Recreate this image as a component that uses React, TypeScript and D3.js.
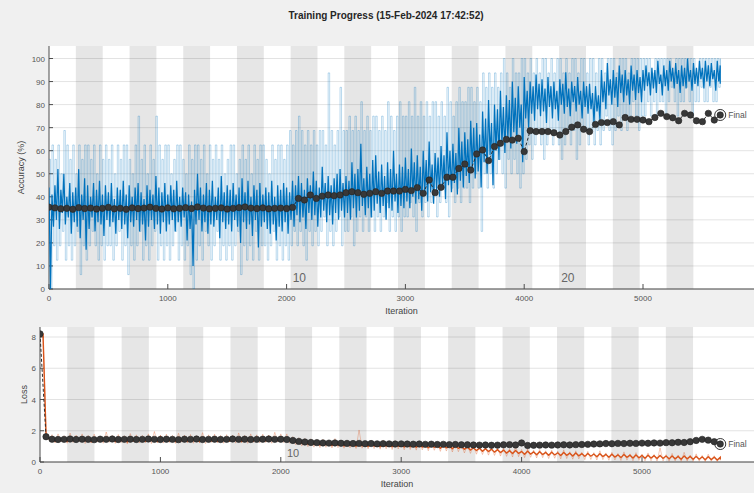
import React from 'react';
import * as d3 from 'd3';

const W = 754;
const H = 493;

const ITERS_PER_EPOCH = 226;
const NUM_EPOCHS = 25;
const ACC_BIN = 25; // accuracy traces: one high/low pair per 25 iterations
const LOSS_BIN = 50; // loss traces: one high/low pair per 50 iterations
const VAL_STEP = 50; // validation frequency

// Smoothed training accuracy (%): upper and lower extent in each 25-iteration bin
const accSmoothHigh = [
  44, 41, 45, 52, 43, 50, 40, 46, 42, 44, 52, 41, 48, 45, 40, 46, 43, 47, 41, 45,
  42, 46, 39, 44, 43, 47, 41, 45, 40, 44, 46, 42, 39, 45, 43, 41, 49, 44, 42, 46,
  41, 45, 43, 47, 40, 44, 42, 41, 38, 43, 50, 44, 41, 46, 43, 47, 40, 44, 49, 42,
  45, 43, 46, 41, 44, 48, 42, 47, 40, 45, 43, 46, 41, 44, 42, 47, 40, 45, 43, 46,
  44, 42, 47, 45, 49, 46, 43, 48, 45, 51, 47, 44, 53, 46, 49, 45, 48, 50, 52, 46,
  49, 47, 55, 50, 52, 63, 48, 53, 50, 56, 58, 51, 54, 49, 55, 52, 60, 50, 54, 53,
  57, 52, 61, 55, 58, 53, 60, 56, 64, 54, 59, 57, 62, 58, 68, 60, 63, 59, 70, 64,
  68, 65, 73, 70, 72, 67, 77, 74, 82, 72, 80, 78, 86, 79, 84, 82, 90, 83, 88, 80,
  92, 86, 90, 88, 93, 89, 91, 87, 92, 88, 90, 86, 91, 89, 94, 87, 90, 88, 92, 86,
  90, 88, 89, 85, 88, 84, 95, 90, 98, 91, 95, 92, 97, 93, 95, 91, 97, 93, 95, 92,
  95, 97, 94, 96, 95, 99, 93, 97, 95, 99, 96, 98, 95, 97, 96, 100, 95, 98, 96, 99,
  96, 99, 97, 98, 95, 99, 97,
];
const accSmoothLow = [
  0, 27, 30, 26, 33, 28, 31, 24, 29, 27, 22, 30, 17, 26, 31, 25, 29, 28, 23, 30,
  27, 29, 24, 30, 26, 28, 22, 29, 27, 30, 25, 28, 21, 27, 30, 26, 28, 24, 29, 25,
  28, 30, 25, 29, 27, 31, 21, 26, 10, 28, 30, 25, 29, 24, 28, 27, 30, 22, 29, 26,
  28, 25, 30, 27, 20, 29, 26, 28, 23, 30, 18, 27, 29, 26, 24, 28, 21, 27, 25, 29,
  24, 30, 27, 32, 29, 31, 26, 33, 30, 32, 27, 31, 34, 29, 32, 28, 33, 30, 34, 31,
  33, 30, 35, 31, 34, 36, 32, 35, 31, 34, 37, 33, 36, 30, 35, 34, 38, 33, 36, 35,
  38, 35, 40, 37, 39, 34, 41, 38, 42, 37, 43, 40, 44, 39, 45, 42, 46, 41, 47, 44,
  49, 46, 52, 48, 51, 44, 55, 50, 58, 45, 60, 56, 63, 59, 65, 61, 68, 63, 70, 55,
  74, 70, 76, 73, 78, 75, 77, 72, 79, 74, 78, 73, 80, 76, 79, 75, 81, 77, 80, 74,
  79, 76, 78, 72, 77, 73, 81, 78, 84, 80, 83, 79, 85, 81, 84, 80, 86, 82, 85, 81,
  86, 88, 84, 87, 85, 89, 84, 88, 86, 90, 87, 89, 85, 88, 87, 90, 86, 89, 88, 91,
  87, 90, 88, 91, 86, 90, 89,
];

// Mini-batch training accuracy (%): upper and lower extent in each 25-iteration bin
const accRawHigh = [
  56.25, 62.5, 56.25, 62.5, 50, 68.75, 62.5, 56.25, 62.5, 50, 62.5, 56.25, 62.5, 62.5, 56.25, 62.5, 50, 62.5, 56.25, 62.5,
  56.25, 62.5, 50, 62.5, 56.25, 62.5, 62.5, 56.25, 50, 62.5, 75, 56.25, 62.5, 50, 62.5, 56.25, 75, 62.5, 56.25, 62.5,
  62.5, 50, 56.25, 62.5, 62.5, 56.25, 50, 62.5, 56.25, 62.5, 62.5, 56.25, 62.5, 50, 62.5, 56.25, 62.5, 56.25, 62.5, 50,
  56.25, 62.5, 62.5, 50, 56.25, 62.5, 56.25, 62.5, 50, 62.5, 56.25, 62.5, 62.5, 56.25, 50, 62.5, 56.25, 62.5, 62.5, 56.25,
  62.5, 68.75, 62.5, 68.75, 75, 68.75, 62.5, 68.75, 62.5, 68.75, 62.5, 68.75, 68.75, 62.5, 93.75, 68.75, 62.5, 68.75, 87.5, 68.75,
  68.75, 75, 68.75, 75, 68.75, 81.25, 68.75, 75, 68.75, 75, 75, 68.75, 75, 68.75, 81.25, 75, 68.75, 75, 81.25, 75,
  75, 81.25, 75, 87.5, 75, 81.25, 75, 81.25, 75, 81.25, 81.25, 75, 81.25, 75, 87.5, 81.25, 75, 81.25, 87.5, 81.25,
  81.25, 87.5, 87.5, 81.25, 87.5, 81.25, 93.75, 87.5, 93.75, 87.5, 93.75, 87.5, 93.75, 100, 93.75, 87.5, 100, 93.75, 93.75, 100,
  100, 93.75, 100, 93.75, 100, 93.75, 100, 100, 93.75, 100, 93.75, 100, 100, 93.75, 100, 93.75, 100, 100, 93.75, 100,
  100, 93.75, 100, 100, 93.75, 100, 100, 93.75, 100, 100, 100, 93.75, 100, 100, 100, 93.75, 100, 100, 100, 100,
  100, 100, 100, 93.75, 100, 100, 100, 100, 100, 100, 93.75, 100, 100, 100, 100, 100, 100, 100, 93.75, 100,
  100, 100, 100, 100, 100, 100, 100,
];
const accRawLow = [
  0, 18.75, 12.5, 18.75, 25, 12.5, 18.75, 12.5, 18.75, 25, 6.25, 18.75, 12.5, 18.75, 25, 18.75, 12.5, 18.75, 12.5, 18.75,
  18.75, 12.5, 18.75, 25, 12.5, 18.75, 6.25, 18.75, 12.5, 18.75, 25, 12.5, 18.75, 12.5, 18.75, 25, 12.5, 18.75, 12.5, 18.75,
  12.5, 18.75, 25, 12.5, 18.75, 12.5, 18.75, 6.25, 0, 12.5, 18.75, 12.5, 25, 18.75, 12.5, 18.75, 25, 12.5, 18.75, 12.5,
  18.75, 12.5, 18.75, 25, 6.25, 18.75, 12.5, 18.75, 12.5, 25, 12.5, 18.75, 18.75, 12.5, 18.75, 25, 12.5, 18.75, 12.5, 18.75,
  12.5, 18.75, 25, 18.75, 25, 18.75, 12.5, 25, 18.75, 25, 18.75, 25, 31.25, 18.75, 25, 18.75, 25, 31.25, 18.75, 25,
  25, 31.25, 18.75, 25, 31.25, 25, 31.25, 25, 31.25, 25, 31.25, 25, 31.25, 37.5, 25, 31.25, 25, 31.25, 25, 31.25,
  31.25, 37.5, 31.25, 25, 37.5, 31.25, 37.5, 31.25, 37.5, 43.75, 31.25, 37.5, 43.75, 37.5, 31.25, 43.75, 37.5, 43.75, 37.5, 43.75,
  43.75, 37.5, 43.75, 50, 43.75, 25, 50, 43.75, 50, 43.75, 50, 56.25, 50, 43.75, 56.25, 50, 56.25, 50, 43.75, 50,
  56.25, 62.5, 56.25, 62.5, 68.75, 62.5, 56.25, 62.5, 68.75, 62.5, 68.75, 62.5, 56.25, 62.5, 68.75, 62.5, 68.75, 56.25, 62.5, 68.75,
  68.75, 62.5, 68.75, 62.5, 68.75, 62.5, 68.75, 75, 68.75, 62.5, 68.75, 75, 68.75, 75, 68.75, 75, 81.25, 75, 68.75, 75,
  75, 81.25, 75, 81.25, 75, 81.25, 81.25, 75, 81.25, 87.5, 81.25, 75, 81.25, 81.25, 87.5, 81.25, 75, 81.25, 81.25, 87.5,
  81.25, 81.25, 87.5, 81.25, 81.25, 87.5, 93.75,
];

// Validation accuracy (%), every 50 iterations
const accuracyValidation = [
  35.5, 35.2, 34.8, 35.0, 34.6, 35.3, 34.9, 35.1, 34.7, 35.0, 35.4, 34.8, 35.0, 34.6, 35.2, 34.9, 35.1, 35.5, 35.0, 34.7,
  35.2, 34.8, 35.0, 35.3, 34.9, 35.6, 35.1, 34.8, 35.0, 35.2, 34.7, 35.0, 35.3, 35.6, 35.1, 34.9, 35.2, 34.8, 35.0, 35.1,
  34.9, 35.4,
  39.3, 38.6, 40.8, 39.3, 40.3, 40.8, 40.5, 40.8, 41.8, 42.2, 41.8, 41.1, 41.5, 42.2, 41.5, 42.5, 42.5, 42.5, 43.2, 42.7,
  44.0, 41.5, 47.3, 41.8, 44.1, 48.5, 48.5, 52.3, 54.2, 51.6, 58.6, 60.3, 55.7, 61.8, 63.2, 64.9,
  64.6, 65.4, 59.6, 68.7, 68.3, 68.3, 68.3, 67.8, 66.8, 68.3, 70.2, 71.2, 69.3, 68.3, 71.4, 72.2, 72.2, 72.6, 71.2, 74.4,
  73.6, 73.6, 73.3, 72.6, 74.4, 76.2, 74.8, 74.3, 73.0, 76.2, 75.5, 73.0, 72.6, 76.2, 73.3, 75.5,
];

// Smoothed training loss: upper and lower extent in each 50-iteration bin
const lossSmoothHigh = [
  8.2, 1.75,
  1.52, 1.55, 1.50, 1.56, 1.58, 1.51, 1.49, 1.55, 1.53, 1.60, 1.50, 1.54, 1.48, 1.56, 1.57, 1.51, 1.55, 1.50, 1.62, 1.53,
  1.50, 1.57, 1.52, 1.55, 1.49, 1.58, 1.54, 1.51, 1.56, 1.53, 1.60, 1.50, 1.55, 1.52, 1.58, 1.54, 1.62, 1.57, 1.60,
  1.56, 1.48, 1.40, 1.33, 1.31, 1.27, 1.30, 1.24, 1.27, 1.21,
  1.23, 1.19, 1.24, 1.17, 1.20, 1.16, 1.19, 1.15, 1.18, 1.14,
  1.15, 1.12, 1.14, 1.09, 1.12, 1.06, 1.09, 1.03, 1.06, 0.99,
  0.96, 0.91, 0.88, 0.85, 0.82, 0.79, 0.76, 0.72, 0.74, 0.67,
  0.69, 0.64, 0.66, 0.61, 0.63, 0.59, 0.61, 0.56, 0.58, 0.54,
  0.55, 0.51, 0.53, 0.49, 0.50, 0.46, 0.48, 0.44, 0.45, 0.42,
  0.43, 0.40, 0.41, 0.38, 0.39, 0.36, 0.38, 0.35, 0.36, 0.33, 0.34, 0.31, 0.30,
];
const lossSmoothLow = [
  8.2, 1.50,
  1.33, 1.40, 1.31, 1.37, 1.42, 1.35, 1.30, 1.38, 1.36, 1.41, 1.32, 1.38, 1.29, 1.36, 1.40, 1.33, 1.38, 1.31, 1.43, 1.35,
  1.32, 1.39, 1.34, 1.37, 1.30, 1.41, 1.36, 1.33, 1.38, 1.35, 1.42, 1.31, 1.37, 1.34, 1.40, 1.36, 1.43, 1.39, 1.41,
  1.38, 1.28, 1.21, 1.15, 1.13, 1.09, 1.11, 1.06, 1.08, 1.03,
  1.05, 1.01, 1.04, 0.99, 1.02, 0.98, 1.01, 0.97, 1.00, 0.96,
  0.97, 0.94, 0.96, 0.91, 0.93, 0.88, 0.90, 0.85, 0.87, 0.81,
  0.77, 0.73, 0.69, 0.67, 0.63, 0.61, 0.57, 0.54, 0.55, 0.49,
  0.51, 0.46, 0.48, 0.43, 0.45, 0.41, 0.43, 0.38, 0.40, 0.36,
  0.37, 0.33, 0.35, 0.31, 0.32, 0.28, 0.30, 0.26, 0.27, 0.24,
  0.25, 0.22, 0.23, 0.20, 0.21, 0.18, 0.20, 0.17, 0.18, 0.15, 0.16, 0.13, 0.16,
];

// Mini-batch training loss: upper and lower extent in each 50-iteration bin
const lossRawHigh = [
  8.2, 1.95,
  1.75, 1.80, 1.68, 1.85, 1.72, 1.80, 1.70, 1.78, 1.66, 1.92, 1.70, 1.76, 1.68, 1.82, 1.74, 1.70, 1.80, 1.95, 1.72, 1.78,
  1.70, 1.84, 1.72, 1.76, 1.68, 1.88, 1.74, 1.78, 1.70, 1.75, 1.72, 1.86, 1.70, 1.80, 1.74, 1.78, 1.72, 1.90, 1.80,
  1.80, 1.62, 1.55, 1.50, 1.48, 1.42, 1.45, 1.40, 1.50, 1.38,
  1.40, 1.36, 2.05, 1.34, 1.38, 1.32, 1.40, 1.30, 1.36, 1.28,
  1.30, 1.26, 1.32, 1.24, 1.28, 1.20, 1.24, 1.16, 1.20, 1.10,
  1.08, 1.02, 1.00, 0.96, 0.95, 0.90, 0.92, 0.85, 1.05, 0.80,
  0.85, 0.76, 0.80, 0.72, 0.75, 0.70, 0.78, 0.66, 0.72, 0.62,
  0.68, 0.60, 0.72, 0.58, 0.62, 0.55, 0.65, 0.52, 0.60, 0.50,
  0.58, 0.48, 0.90, 0.47, 0.55, 0.45, 0.62, 0.44, 0.52, 0.42, 0.50, 0.40, 0.32,
];
const lossRawLow = [
  8.2, 1.40,
  1.22, 1.28, 1.20, 1.25, 1.30, 1.18, 1.24, 1.27, 1.20, 1.26, 1.19, 1.25, 1.16, 1.28, 1.22, 1.24, 1.18, 1.26, 1.21, 1.25,
  1.19, 1.27, 1.22, 1.20, 1.25, 1.18, 1.26, 1.23, 1.20, 1.28, 1.21, 1.24, 1.19, 1.26, 1.22, 1.25, 1.20, 1.27, 1.24,
  1.20, 1.10, 1.02, 0.98, 0.95, 0.92, 0.94, 0.90, 0.92, 0.88,
  0.90, 0.86, 0.88, 0.84, 0.86, 0.82, 0.85, 0.80, 0.83, 0.78,
  0.80, 0.76, 0.78, 0.72, 0.75, 0.68, 0.70, 0.64, 0.66, 0.58,
  0.55, 0.50, 0.48, 0.44, 0.42, 0.38, 0.36, 0.32, 0.34, 0.28,
  0.30, 0.26, 0.28, 0.22, 0.24, 0.20, 0.22, 0.18, 0.20, 0.15,
  0.16, 0.13, 0.15, 0.11, 0.13, 0.10, 0.12, 0.08, 0.10, 0.07,
  0.08, 0.06, 0.07, 0.05, 0.07, 0.04, 0.06, 0.04, 0.05, 0.03, 0.05, 0.03, 0.10,
];

// Validation loss, every 50 iterations
const lossValidation = [
  8.2, 1.62,
  1.46, 1.44, 1.45, 1.47, 1.44, 1.46, 1.45, 1.43, 1.46, 1.45, 1.47, 1.44, 1.45, 1.46, 1.44, 1.45, 1.47, 1.45, 1.44, 1.46,
  1.45, 1.43, 1.46, 1.45, 1.47, 1.44, 1.45, 1.46, 1.44, 1.45, 1.47, 1.45, 1.46, 1.44, 1.45, 1.46, 1.47, 1.45, 1.46,
  1.44, 1.38, 1.32, 1.28, 1.25, 1.24, 1.22, 1.21, 1.22, 1.20,
  1.19, 1.18, 1.19, 1.17, 1.18, 1.16, 1.17, 1.16, 1.15, 1.16,
  1.15, 1.14, 1.15, 1.13, 1.14, 1.12, 1.13, 1.11, 1.12, 1.10,
  1.10, 1.09, 1.08, 1.09, 1.07, 1.08, 1.10, 1.11, 1.09, 1.22,
  1.06, 1.07, 1.08, 1.09, 1.08, 1.09, 1.10, 1.09, 1.11, 1.12,
  1.13, 1.15, 1.16, 1.18, 1.17, 1.19, 1.18, 1.20, 1.19, 1.21,
  1.20, 1.22, 1.21, 1.24, 1.23, 1.26, 1.25, 1.30, 1.38, 1.45, 1.40, 1.30, 1.15,
];

const accuracyTicks = [0, 10, 20, 30, 40, 50, 60, 70, 80, 90, 100];
const lossTicks = [0, 2, 4, 6, 8];
const iterationTicks = [0, 1000, 2000, 3000, 4000, 5000];
const accuracyEpochLabels = [10, 20];
const lossEpochLabels = [10];

const TITLE = 'Training Progress (15-Feb-2024 17:42:52)';
const FONT = '"Liberation Sans", Arial, Helvetica, sans-serif';

const BLUE = '#0072BD';
const ORANGE = '#D95319';
const BAND = '#e6e6e6';
const AXIS = '#4d4d4d';
const TICK_TEXT = '#555555';
const VAL_DOT = '#383838';

type Frame = { left: number; right: number; top: number; bottom: number };
type Pt = { t: number; v: number };

// Walk each bin from its upper extent to its lower extent, giving a dense trace.
function envelopeTrace(high: number[], low: number[], bin: number): Pt[] {
  const last = (high.length - 1) * bin;
  const pts: Pt[] = [];
  high.forEach((h, i) => {
    const t = i * bin;
    pts.push({ t, v: h });
    pts.push({ t: Math.min(t + bin / 2, last), v: low[i] });
  });
  return pts;
}

type PanelProps = {
  id: string;
  frame: Frame;
  x: d3.ScaleLinear<number, number>;
  y: d3.ScaleLinear<number, number>;
  yTicks: number[];
  yLabel: string;
  yLabelX: number;
  raw: Pt[];
  rawStepped: boolean;
  smoothed: Pt[];
  smoothWidth: number;
  validation: number[];
  color: string;
  rawOpacity: number;
  epochLabels: number[];
  epochLabelSize: number;
  epochLabelBaseline: number;
  xLabelY: number;
};

function Panel(p: PanelProps) {
  const { frame, x, y } = p;
  const bands: [number, number][] = [];
  for (let e = 2; e <= NUM_EPOCHS; e += 2) {
    bands.push([(e - 1) * ITERS_PER_EPOCH, e * ITERS_PER_EPOCH]);
  }

  const rawLine = d3
    .line<Pt>()
    .x((d) => x(d.t))
    .y((d) => y(d.v))
    .curve(p.rawStepped ? d3.curveStepAfter : d3.curveLinear);
  const smoothLine = d3
    .line<Pt>()
    .x((d) => x(d.t))
    .y((d) => y(d.v));
  const valLine = d3
    .line<number>()
    .x((_, i) => x(i * VAL_STEP))
    .y((d) => y(d));

  const lastIdx = p.validation.length - 1;
  const finalX = x(lastIdx * VAL_STEP);
  const finalY = y(p.validation[lastIdx]);
  const clipId = `clip-${p.id}`;
  const midX = (frame.left + frame.right) / 2;
  const midY = (frame.top + frame.bottom) / 2;

  return (
    <g>
      <defs>
        <clipPath id={clipId}>
          <rect x={frame.left} y={frame.top} width={frame.right - frame.left} height={frame.bottom - frame.top} />
        </clipPath>
      </defs>
      <rect x={frame.left} y={frame.top} width={frame.right - frame.left} height={frame.bottom - frame.top} fill="#ffffff" />
      {bands.map(([a, b], i) => (
        <rect
          key={`band-${i}`}
          x={x(a)}
          y={frame.top}
          width={x(b) - x(a)}
          height={frame.bottom - frame.top}
          fill={BAND}
          clipPath={`url(#${clipId})`}
        />
      ))}
      {p.yTicks.map((t) => (
        <line key={`grid-${t}`} x1={frame.left} x2={frame.right} y1={y(t)} y2={y(t)} stroke="#000" strokeOpacity={0.11} strokeWidth={1} />
      ))}
      {p.epochLabels.map((e) => (
        <text
          key={`ep-${e}`}
          x={x((e - 1) * ITERS_PER_EPOCH) + 2}
          y={p.epochLabelBaseline}
          fontFamily={FONT}
          fontSize={p.epochLabelSize}
          fill="#666"
        >
          {e}
        </text>
      ))}
      {/* axes */}
      <line x1={frame.left} x2={frame.left} y1={frame.top} y2={frame.bottom} stroke={AXIS} strokeWidth={1} />
      <line x1={frame.left} x2={frame.right} y1={frame.bottom} y2={frame.bottom} stroke={AXIS} strokeWidth={1} />
      {p.yTicks.map((t) => (
        <g key={`yt-${t}`}>
          <line x1={frame.left} x2={frame.left + 4} y1={y(t)} y2={y(t)} stroke={AXIS} />
          <text x={frame.left - 4} y={y(t) + 3} textAnchor="end" fontFamily={FONT} fontSize={8} fill={TICK_TEXT}>
            {t}
          </text>
        </g>
      ))}
      {iterationTicks.map((t) => (
        <g key={`xt-${t}`}>
          <line x1={x(t)} x2={x(t)} y1={frame.bottom} y2={frame.bottom - 5} stroke={AXIS} />
          <text x={x(t)} y={frame.bottom + 12} textAnchor="middle" fontFamily={FONT} fontSize={8} fill={TICK_TEXT}>
            {t}
          </text>
        </g>
      ))}
      {/* data */}
      <g clipPath={`url(#${clipId})`}>
        <path d={rawLine(p.raw) ?? ''} fill="none" stroke={p.color} strokeOpacity={p.rawOpacity} strokeWidth={1} />
        <path d={smoothLine(p.smoothed) ?? ''} fill="none" stroke={p.color} strokeWidth={p.smoothWidth} />
        <path d={valLine(p.validation) ?? ''} fill="none" stroke="#2b2b2b" strokeWidth={1} strokeDasharray="3 2" />
        {p.validation.map((v, i) => (
          <circle key={`v-${i}`} cx={x(i * VAL_STEP)} cy={y(v)} r={3.2} fill={VAL_DOT} stroke="#222" strokeWidth={0.6} />
        ))}
        <circle cx={finalX} cy={finalY} r={5.5} fill="none" stroke="#333" strokeWidth={1} />
        <text x={finalX + 8} y={finalY + 3} fontFamily={FONT} fontSize={8.5} fill="#555">
          Final
        </text>
      </g>
      <text x={midX} y={p.xLabelY} textAnchor="middle" fontFamily={FONT} fontSize={9} fill="#444">
        Iteration
      </text>
      <text
        transform={`translate(${p.yLabelX},${midY}) rotate(-90)`}
        textAnchor="middle"
        fontFamily={FONT}
        fontSize={9}
        fill="#444"
      >
        {p.yLabel}
      </text>
    </g>
  );
}

export default function App() {
  const accFrame: Frame = { left: 49, right: W, top: 46, bottom: 289 };
  const accX = d3.scaleLinear().domain([0, 5000]).range([49, 643]);
  const accY = d3.scaleLinear().domain([0, 100]).range([289, 58.5]);

  const lossFrame: Frame = { left: 40, right: W, top: 327, bottom: 462 };
  const lossX = d3.scaleLinear().domain([0, 5000]).range([40, 642]);
  const lossY = d3.scaleLinear().domain([0, 8]).range([462, 337]);

  return (
    <svg
      width={W}
      height={H}
      viewBox={`0 0 ${W} ${H}`}
      style={{ position: 'absolute', left: 0, top: 0, display: 'block' }}
    >
      <rect x={0} y={0} width={W} height={H} fill="#f0f0f0" />
      <text x={386} y={19} textAnchor="middle" fontFamily={FONT} fontSize={10} fontWeight="bold" fill="#262626">
        {TITLE}
      </text>
      <Panel
        id="acc"
        frame={accFrame}
        x={accX}
        y={accY}
        yTicks={accuracyTicks}
        yLabel="Accuracy (%)"
        yLabelX={24}
        raw={envelopeTrace(accRawHigh, accRawLow, ACC_BIN)}
        rawStepped={true}
        smoothed={envelopeTrace(accSmoothHigh, accSmoothLow, ACC_BIN)}
        smoothWidth={1.25}
        validation={accuracyValidation}
        color={BLUE}
        rawOpacity={0.28}
        epochLabels={accuracyEpochLabels}
        epochLabelSize={12}
        epochLabelBaseline={282}
        xLabelY={314}
      />
      <Panel
        id="loss"
        frame={lossFrame}
        x={lossX}
        y={lossY}
        yTicks={lossTicks}
        yLabel="Loss"
        yLabelX={27}
        raw={envelopeTrace(lossRawHigh, lossRawLow, LOSS_BIN)}
        rawStepped={false}
        smoothed={envelopeTrace(lossSmoothHigh, lossSmoothLow, LOSS_BIN)}
        smoothWidth={1.4}
        validation={lossValidation}
        color={ORANGE}
        rawOpacity={0.3}
        epochLabels={lossEpochLabels}
        epochLabelSize={11}
        epochLabelBaseline={457}
        xLabelY={487}
      />
    </svg>
  );
}
